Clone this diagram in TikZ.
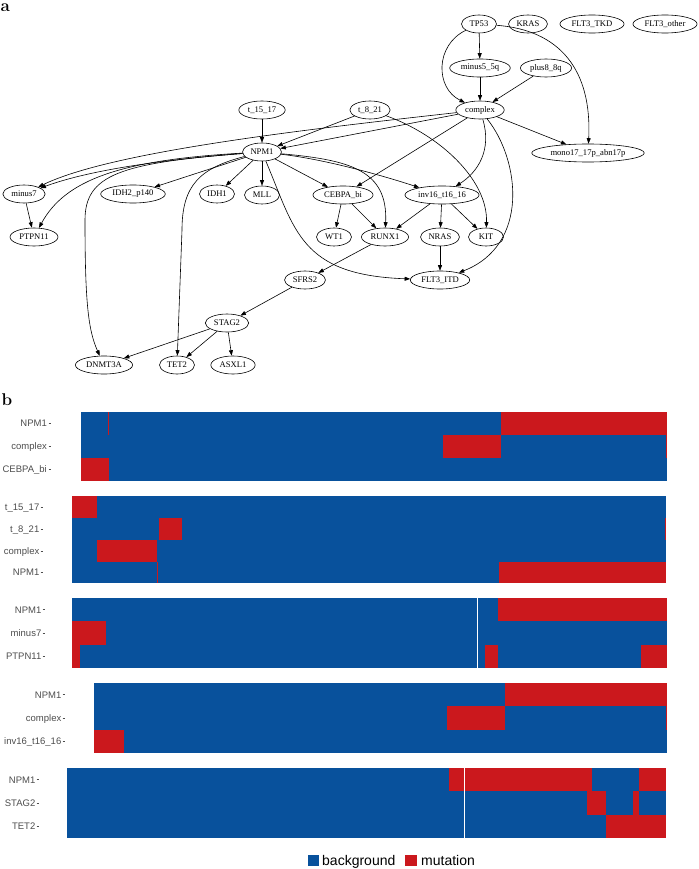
\documentclass[tikz,border=0pt]{standalone}
\usepackage{xcolor}
\usepackage{fontspec}
\newfontfamily\graphfont{Liberation Serif}
\newfontfamily\plotfont{Liberation Sans}
\usepackage{tikz}
\usetikzlibrary{shapes.geometric,arrows.meta}
\definecolor{BgBlue}{HTML}{08519C}
\definecolor{MutRed}{HTML}{CB181D}
\definecolor{AxisGrey}{HTML}{4D4D4D}
\tikzset{
  % Graph node
  GN/.style={ellipse,draw,line width=0.6pt,
             minimum width=35pt,minimum height=18pt,
             inner xsep=2.3pt,inner ysep=0pt,
             font=\graphfont\fontsize{8.6}{10}\selectfont},
  % Arrow
  arr/.style={-{Triangle[length=5.5pt,width=4pt]},line width=0.6pt},
  % Panel b
  bg/.style={fill=BgBlue},
  mu/.style={fill=MutRed},
  gap/.style={white,line width=0.7pt},
  RL/.style={anchor=base east,inner sep=0pt,text=AxisGrey,
             font=\plotfont\fontsize{9.5}{11}\selectfont},
  tk/.style={AxisGrey,line width=0.5pt},
  LG/.style={anchor=base west,inner sep=0pt,
             font=\plotfont\fontsize{14}{16}\selectfont},
  % Panel letters
  PL/.style={anchor=base west,inner sep=0pt,
             font=\fontsize{17}{20}\selectfont\bfseries}
}

\begin{document}
\begin{tikzpicture}[x=1pt,y=-1pt]
  \useasboundingbox (0,0) rectangle (698,869);
  \node[PL] (pa) at (0.5,12) {a};
  \node[PL] (pb) at (1.5,405) {b};

  % ---- panel a: graph
  \node[GN] (tp)      at (479,24)  {TP53};
  \node[GN] (kras)    at (528,24)  {KRAS};
  \node[GN] (tkd)     at (592,24)  {FLT3\_TKD};
  \node[GN] (other)   at (665,24)  {FLT3\_other};
  \node[GN] (mfive)   at (480,68)  {minus5\_5q};
  \node[GN] (peight)  at (546,68)  {plus8\_8q};
  \node[GN] (cplx)    at (480,110) {complex};
  \node[GN] (tfift)   at (262,110) {t\_15\_17};
  \node[GN] (teight)  at (370,110) {t\_8\_21};
  \node[GN] (mono)    at (588,153) {mono17\_17p\_abn17p};
  \node[GN] (npm)     at (262,152) {NPM1};
  \node[GN] (mseven)  at (24,194)  {minus7};
  \node[GN] (idhtwo)  at (133,194) {IDH2\_p140};
  \node[GN] (idhone)  at (217,194) {IDH1};
  \node[GN] (mll)     at (262,195) {MLL};
  \node[GN] (cebpa)   at (343,195) {CEBPA\_bi};
  \node[GN] (inv)     at (442,195) {inv16\_t16\_16};
  \node[GN] (ptpn)    at (34,237)  {PTPN11};
  \node[GN] (wt)      at (334,237) {WT1};
  \node[GN] (runx)    at (385,237) {RUNX1};
  \node[GN] (nras)    at (440,237) {NRAS};
  \node[GN] (kit)     at (486,237) {KIT};
  \node[GN] (itd)     at (440,280) {FLT3\_ITD};
  \node[GN] (sfrs)    at (305,280) {SFRS2};
  \node[GN] (stag)    at (227,323) {STAG2};
  \node[GN] (dnmt)    at (104,365) {DNMT3A};
  \node[GN] (tet)     at (177,365) {TET2};
  \node[GN] (asxl)    at (233,365) {ASXL1};

  \draw[arr](tp)--(mfive);
  \draw[arr](tp) .. controls (435,45) and (435,88) .. (cplx);
  \draw[arr](tp) .. controls (560,30) and (592,70) .. (mono);
  \draw[arr](mfive)--(cplx);
  \draw[arr](peight)--(cplx);
  \draw[arr](cplx)--(mono);
  \draw[arr](cplx)--(npm);
  \draw[arr](cplx) .. controls (300,130) and (110,152) .. (mseven);
  \draw[arr](cplx)--(cebpa);
  \draw[arr](cplx) .. controls (492,150) and (478,172) .. (inv);
  \draw[arr](cplx) .. controls (520,160) and (530,245) .. (itd);
  \draw[arr](tfift)--(npm);
  \draw[arr](teight)--(npm);
  \draw[arr](teight) .. controls (440,135) and (488,180) .. (kit);
  \draw[arr](npm) .. controls (160,160) and (90,170) .. (mseven);
  \draw[arr](npm) .. controls (120,160) and (65,180) .. (ptpn);
  \draw[arr](npm) .. controls (120,163) and (85,175) .. (85,220)
                  .. controls (85,300) and (88,330) .. (dnmt);
  \draw[arr](npm)--(idhtwo);
  \draw[arr](npm)--(idhone);
  \draw[arr](npm)--(mll);
  \draw[arr](npm) .. controls (200,168) and (182,185) .. (182,230) -- (tet);
  \draw[arr](npm)--(cebpa);
  \draw[arr](npm) .. controls (330,160) and (390,178) .. (inv);
  \draw[arr](npm) .. controls (350,160) and (388,170) .. (runx);
  \draw[arr](npm) .. controls (295,230) and (300,275) .. (itd);
  \draw[arr](mseven)--(ptpn);
  \draw[arr](cebpa)--(wt);
  \draw[arr](cebpa)--(runx);
  \draw[arr](inv)--(runx);
  \draw[arr](inv)--(nras);
  \draw[arr](inv)--(kit);
  \draw[arr](nras)--(itd);
  \draw[arr](runx)--(sfrs);
  \draw[arr](sfrs)--(stag);
  \draw[arr](stag)--(dnmt);
  \draw[arr](stag)--(tet);
  \draw[arr](stag)--(asxl);

  % ---- panel b: block 1
  \fill[bg] (81,412) rectangle (667,481);
  \fill[mu] (501,412) rectangle (667,435);
  \fill[mu] (107.5,412) rectangle (108.7,435);
  \fill[mu] (443,435) rectangle (501,458);
  \fill[mu] (665.8,435) rectangle (667,458);
  \fill[mu] (81,458) rectangle (109,481);
  \node[RL] (ba) at (47,426.8) {NPM1};
  \node[RL] (bb) at (47,449.8) {complex};
  \node[RL] (bc) at (47,472.8) {CEBPA\_bi};
  \foreach \y in {423.5,446.5,469.5} \draw[tk] (48.5,\y)--(51,\y);

  % block 2
  \fill[bg] (72,496) rectangle (666,583);
  \fill[mu] (72,496) rectangle (97,518);
  \fill[mu] (159,518) rectangle (182,540);
  \fill[mu] (665,518) rectangle (666,540);
  \fill[mu] (97,540) rectangle (157,561.5);
  \fill[mu] (157,561.5) rectangle (158.3,583);
  \fill[mu] (499,561.5) rectangle (666,583);
  \node[RL] (ca) at (39.5,510.3) {t\_15\_17};
  \node[RL] (cb) at (39.5,532.3) {t\_8\_21};
  \node[RL] (cc) at (39.5,554.1) {complex};
  \node[RL] (cd) at (39.5,575.6) {NPM1};
  \foreach \y in {507,529,550.8,572.3} \draw[tk] (40.5,\y)--(43,\y);

  % block 3
  \fill[bg] (72,598) rectangle (667,668);
  \fill[mu] (498,598) rectangle (667,621.3);
  \fill[mu] (72,621.3) rectangle (106,644.7);
  \fill[mu] (72,644.7) rectangle (80,668);
  \fill[mu] (485,644.7) rectangle (498,668);
  \fill[mu] (641,644.7) rectangle (667,668);
  \draw[gap] (477,598)--(477,668);
  \node[RL] (da) at (41.5,613) {NPM1};
  \node[RL] (db) at (41.5,636.3) {minus7};
  \node[RL] (dc) at (41.5,659.7) {PTPN11};
  \foreach \y in {609.7,633,656.3} \draw[tk] (42.5,\y)--(45,\y);

  % block 4
  \fill[bg] (94,683) rectangle (667,753);
  \fill[mu] (505,683) rectangle (667,706.3);
  \fill[mu] (447,706.3) rectangle (505,729.7);
  \fill[mu] (666,706.3) rectangle (667,729.7);
  \fill[mu] (94,729.7) rectangle (124,753);
  \node[RL] (ea) at (61.5,698) {NPM1};
  \node[RL] (eb) at (61.5,721.3) {complex};
  \node[RL] (ec) at (61.5,744.7) {inv16\_t16\_16};
  \foreach \y in {694.7,718,741.3} \draw[tk] (62.5,\y)--(65,\y);

  % block 5
  \fill[bg] (67,768) rectangle (666,838);
  \fill[mu] (449,768) rectangle (592,791.3);
  \fill[mu] (639,768) rectangle (666,791.3);
  \fill[mu] (587,791.3) rectangle (606,814.7);
  \fill[mu] (633,791.3) rectangle (639,814.7);
  \fill[mu] (606,814.7) rectangle (666,838);
  \draw[gap] (464,768)--(464,838);
  \node[RL] (fa) at (35.5,783) {NPM1};
  \node[RL] (fb) at (35.5,806.3) {STAG2};
  \node[RL] (fc) at (35.5,829.7) {TET2};
  \foreach \y in {779.7,803,826.3} \draw[tk] (36.5,\y)--(39,\y);

  % legend
  \fill[bg] (308,855) rectangle (319,866);
  \node[LG] (lbg) at (322,865.5) {background};
  \fill[mu] (405,855) rectangle (417,866);
  \node[LG] (lmu) at (421,865.5) {mutation};
\end{tikzpicture}
\end{document}
